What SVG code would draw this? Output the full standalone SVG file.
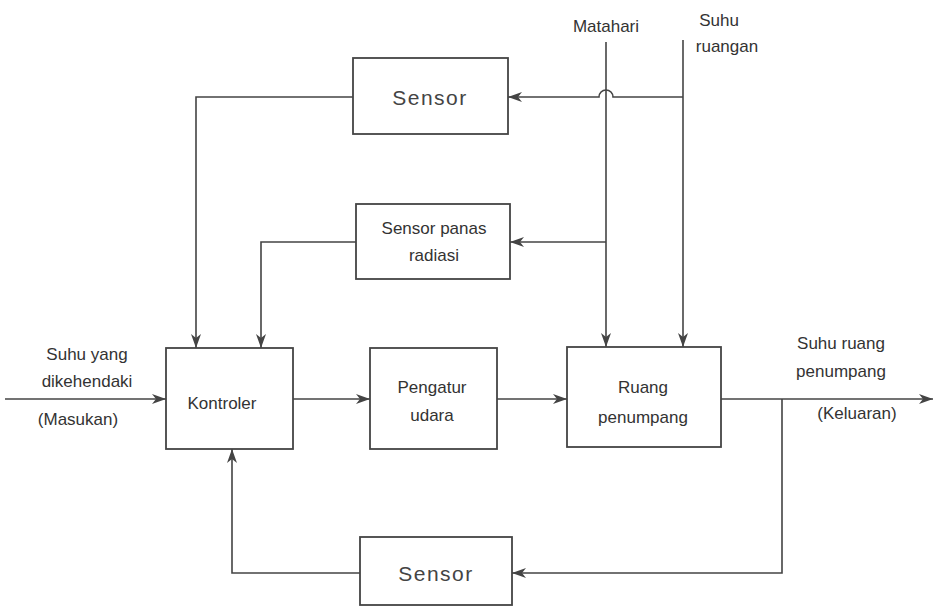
<svg xmlns="http://www.w3.org/2000/svg" width="935" height="608" viewBox="0 0 935 608">
<style>
.box{fill:#fff;stroke:#444;stroke-width:1.8}
.ln{fill:none;stroke:#444;stroke-width:1.6}
.t{font-family:"Liberation Sans",Arial,sans-serif;font-size:17px;fill:#333;text-anchor:middle}
.big{font-family:"Liberation Sans",Arial,sans-serif;font-size:21px;fill:#444;text-anchor:middle;letter-spacing:1.5px}
</style>
<defs>
<marker id="ar" viewBox="0 0 14 10" refX="14" refY="5" markerWidth="14" markerHeight="10" markerUnits="userSpaceOnUse" orient="auto">
<path d="M0,0 L14,5 L0,10 L4,5 Z" fill="#444"/>
</marker>
</defs>
<rect width="935" height="608" fill="#fff"/>
<g id="connectors">
<path class="ln" d="M5,399 L166,399" marker-end="url(#ar)"/>
<path class="ln" d="M293,399 L370,399" marker-end="url(#ar)"/>
<path class="ln" d="M497,399 L567,399" marker-end="url(#ar)"/>
<path class="ln" d="M721,399 L933,399" marker-end="url(#ar)"/>
<path class="ln" d="M606,42 L606,347" marker-end="url(#ar)"/>
<path class="ln" d="M683,40 L683,347" marker-end="url(#ar)"/>
<path class="ln" d="M683,97 L613,97 A7,7 0 0 0 599,97 L508,97" marker-end="url(#ar)"/>
<path class="ln" d="M606,242 L510,242" marker-end="url(#ar)"/>
<path class="ln" d="M353,97 L196,97 L196,348" marker-end="url(#ar)"/>
<path class="ln" d="M356,242 L261,242 L261,348" marker-end="url(#ar)"/>
<path class="ln" d="M782,399 L782,573 L512,573" marker-end="url(#ar)"/>
<path class="ln" d="M360,573 L232,573 L232,449" marker-end="url(#ar)"/>
</g>
<g id="sensor-top">
<rect class="box" x="353" y="58" width="155" height="76"/>
<text class="big" x="430" y="105">Sensor</text>
</g>
<g id="sensor-radiasi">
<rect class="box" x="356" y="204" width="154" height="75"/>
<text class="t" x="434" y="234">Sensor panas</text>
<text class="t" x="434" y="261">radiasi</text>
</g>
<g id="kontroler">
<rect class="box" x="166" y="348" width="127" height="101"/>
<text class="t" x="222" y="409">Kontroler</text>
</g>
<g id="pengatur">
<rect class="box" x="370" y="348" width="127" height="101"/>
<text class="t" x="432" y="393">Pengatur</text>
<text class="t" x="432" y="421">udara</text>
</g>
<g id="ruang">
<rect class="box" x="567" y="347" width="154" height="100"/>
<text class="t" x="643" y="393">Ruang</text>
<text class="t" x="643" y="423">penumpang</text>
</g>
<g id="sensor-bottom">
<rect class="box" x="360" y="537" width="152" height="68"/>
<text class="big" x="436" y="581">Sensor</text>
</g>
<g id="labels">
<text class="t" x="606" y="32">Matahari</text>
<text class="t" x="719" y="26">Suhu</text>
<text class="t" x="727" y="52">ruangan</text>
<text class="t" x="87" y="360">Suhu yang</text>
<text class="t" x="87" y="387">dikehendaki</text>
<text class="t" x="78" y="425">(Masukan)</text>
<text class="t" x="841" y="349">Suhu ruang</text>
<text class="t" x="841" y="377">penumpang</text>
<text class="t" x="857" y="419">(Keluaran)</text>
</g>
</svg>
